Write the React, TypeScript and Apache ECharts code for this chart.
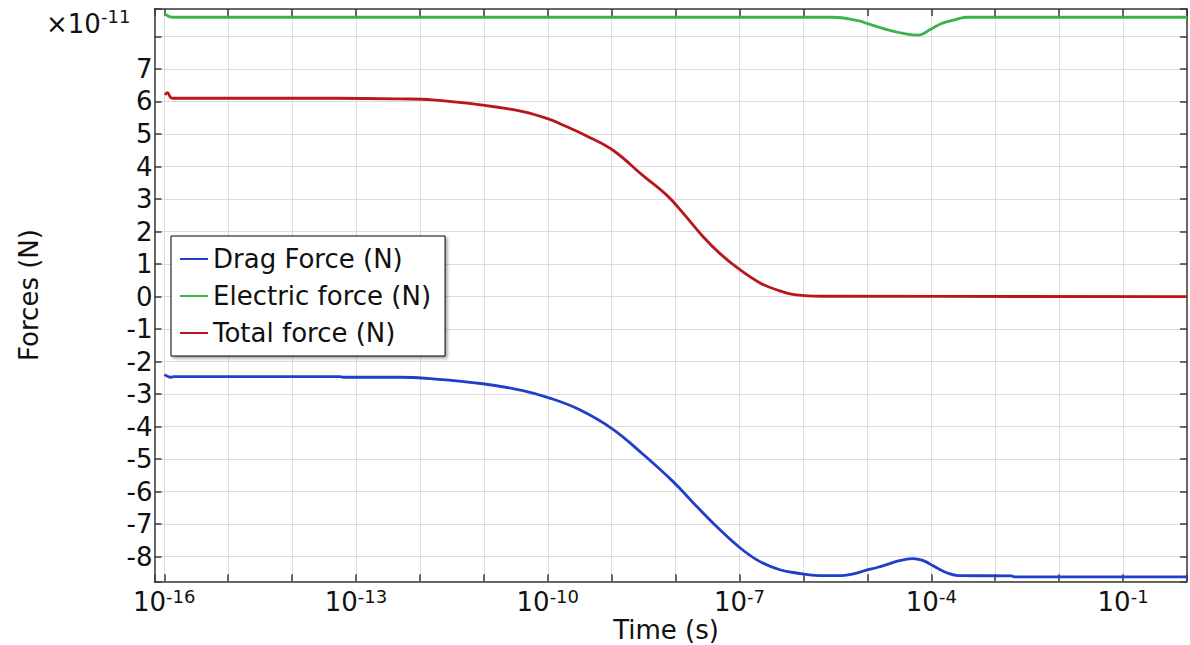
import React, { useEffect, useRef } from 'react';
import * as echarts from 'echarts';

// x values are log10(time / s), y values are in units of 1e-11 N
const dragLogT = [-16.0, -15.96, -15.9, -15.84, -14.5, -13.26, -13.2, -12.32, -11.8, -11.02, -10.39, -9.97, -9.5, -8.98, -8.51, -8.04, -7.73, -7.36, -6.99, -6.68, -6.37, -6.11, -5.76, -5.4, -5.2, -5.03, -4.85, -4.71, -4.5, -4.3, -4.18, -4.09, -3.98, -3.89, -3.75, -3.58, -2.75, -2.69, 0.0];
const dragValues = [-2.4, -2.44, -2.48, -2.46, -2.46, -2.46, -2.48, -2.48, -2.53, -2.68, -2.89, -3.12, -3.48, -4.08, -4.85, -5.69, -6.33, -7.07, -7.73, -8.15, -8.4, -8.5, -8.58, -8.58, -8.52, -8.42, -8.33, -8.25, -8.12, -8.06, -8.09, -8.15, -8.27, -8.37, -8.5, -8.58, -8.59, -8.62, -8.62];

const electricLogT = [-16.0, -15.92, -15.85, -10.0, -5.55, -5.13, -5.01, -4.71, -4.4, -4.2, -4.01, -3.84, -3.62, -3.53, -3.45, 0.0];
const electricValues = [8.71, 8.61, 8.59, 8.59, 8.59, 8.48, 8.4, 8.22, 8.08, 8.04, 8.22, 8.4, 8.52, 8.57, 8.59, 8.59];

const totalLogT = [-15.99, -15.95, -15.9, -15.85, -13.3, -12.32, -11.8, -11.02, -10.39, -9.97, -9.71, -9.4, -8.98, -8.51, -8.14, -7.88, -7.57, -7.31, -6.99, -6.68, -6.42, -6.11, -5.7, 0.0];
const totalValues = [6.2, 6.27, 6.12, 6.1, 6.1, 6.08, 6.05, 5.89, 5.69, 5.45, 5.23, 4.95, 4.5, 3.72, 3.12, 2.56, 1.84, 1.33, 0.82, 0.42, 0.21, 0.05, 0.01, 0.0];

const seriesNames = ['Drag Force (N)', 'Electric force (N)', 'Total force (N)'];
const seriesColors = ['#1f3fc9', '#3cb44a', '#b8161c'];

const xMin = -16.153;
const xMax = 0;
const yMin = -8.755;
const yMax = 8.844;
const xLabelStart = -16;
const xLabelStep = 3;
const hiddenYLabel = 8;

const FONT = "'DejaVu Sans', sans-serif";

export default function App() {
  const ref = useRef<HTMLDivElement>(null);

  useEffect(() => {
    const chart = echarts.init(ref.current as HTMLDivElement, null, { renderer: 'svg' });

    const axisLine = { show: true, onZero: false, lineStyle: { color: '#3a3a3a', width: 1.5 } };
    const axisTick = { show: true, inside: true, length: 7, lineStyle: { color: '#3a3a3a', width: 1.5 } };
    const splitLine = { show: true, lineStyle: { color: '#dcdcdc', width: 1 } };

    const xFormatter = (v: number) => {
      const r = Math.round(v);
      if (Math.abs(v - r) > 1e-6) return '';
      if ((r - xLabelStart) % xLabelStep !== 0) return '';
      return `{b|10}{s|${r}}`;
    };
    const yFormatter = (v: number) => {
      const r = Math.round(v);
      if (Math.abs(v - r) > 1e-6 || r === hiddenYLabel) return '';
      return String(r);
    };

    const xBase = {
      type: 'value' as const,
      min: xMin,
      max: xMax,
      splitNumber: 16,
      axisLine,
      axisTick,
    };
    const yBase = {
      type: 'value' as const,
      min: yMin,
      max: yMax,
      splitNumber: 17,
      axisLine,
      axisTick,
    };

    const lists = [
      [dragLogT, dragValues],
      [electricLogT, electricValues],
      [totalLogT, totalValues],
    ];

    const option: any = {
      animation: false,
      backgroundColor: '#ffffff',
      textStyle: { fontFamily: FONT },
      grid: { left: 154.5, top: 9, right: 3, bottom: 63.7, containLabel: false, outerBoundsMode: 'none' },
      xAxis: [
        {
          ...xBase,
          position: 'bottom',
          splitLine,
          axisLabel: {
            show: true,
            margin: 6,
            formatter: xFormatter,
            color: '#111',
            fontFamily: FONT,
            rich: {
              b: { fontSize: 26, lineHeight: 30, fontFamily: FONT, color: '#111' },
              s: { fontSize: 18, lineHeight: 18, verticalAlign: 'top', fontFamily: FONT, color: '#111' },
            },
          },
        },
        {
          ...xBase,
          position: 'top',
          splitLine: { show: false },
          axisLabel: { show: false },
        },
      ],
      yAxis: [
        {
          ...yBase,
          position: 'left',
          splitLine,
          axisLabel: {
            show: true,
            margin: 2,
            formatter: yFormatter,
            fontSize: 26,
            color: '#111',
            fontFamily: FONT,
          },
        },
        {
          ...yBase,
          position: 'right',
          splitLine: { show: false },
          axisLabel: { show: false },
        },
      ],
      legend: {
        orient: 'vertical',
        left: 171,
        top: 236,
        padding: [8, 14, 8, 9],
        itemGap: 7,
        itemWidth: 28,
        itemHeight: 2,
        itemTextGap: 6,
        icon: 'rect',
        backgroundColor: '#ffffff',
        borderColor: '#000000',
        borderWidth: 1,
        borderRadius: 0,
        shadowColor: 'rgba(0,0,0,0.35)',
        shadowBlur: 3,
        shadowOffsetX: 2,
        shadowOffsetY: 2,
        data: seriesNames,
        textStyle: { fontSize: 26, lineHeight: 30, color: '#111', fontFamily: FONT },
      },
      graphic: [
        {
          type: 'text',
          x: 46,
          y: 24,
          style: { text: '×10', fontSize: 26, fontFamily: FONT, fill: '#111', align: 'left', verticalAlign: 'middle' },
        },
        {
          type: 'text',
          x: 101,
          y: 16.5,
          style: { text: '-11', fontSize: 18, fontFamily: FONT, fill: '#111', align: 'left', verticalAlign: 'middle' },
        },
        {
          type: 'text',
          x: 28.5,
          y: 295,
          rotation: Math.PI / 2,
          style: { text: 'Forces (N)', fontSize: 26, fontFamily: FONT, fill: '#111', align: 'center', verticalAlign: 'middle' },
        },
        {
          type: 'text',
          x: 666,
          y: 630,
          style: { text: 'Time (s)', fontSize: 26, fontFamily: FONT, fill: '#111', align: 'center', verticalAlign: 'middle' },
        },
      ],
      series: lists.map(([xs, ys], i) => ({
        name: seriesNames[i],
        type: 'line',
        xAxisIndex: 0,
        yAxisIndex: 0,
        data: xs.map((x, j) => [x, ys[j]]),
        symbol: 'none',
        smooth: 0.4,
        lineStyle: { color: seriesColors[i], width: 2.8 },
        itemStyle: { color: seriesColors[i] },
        z: 3 - i,
      })),
    };

    chart.setOption(option);
    return () => chart.dispose();
  }, []);

  return (
    <div
      ref={ref}
      style={{ position: 'fixed', left: 0, top: 0, width: 1190, height: 645, background: '#ffffff' }}
    />
  );
}
